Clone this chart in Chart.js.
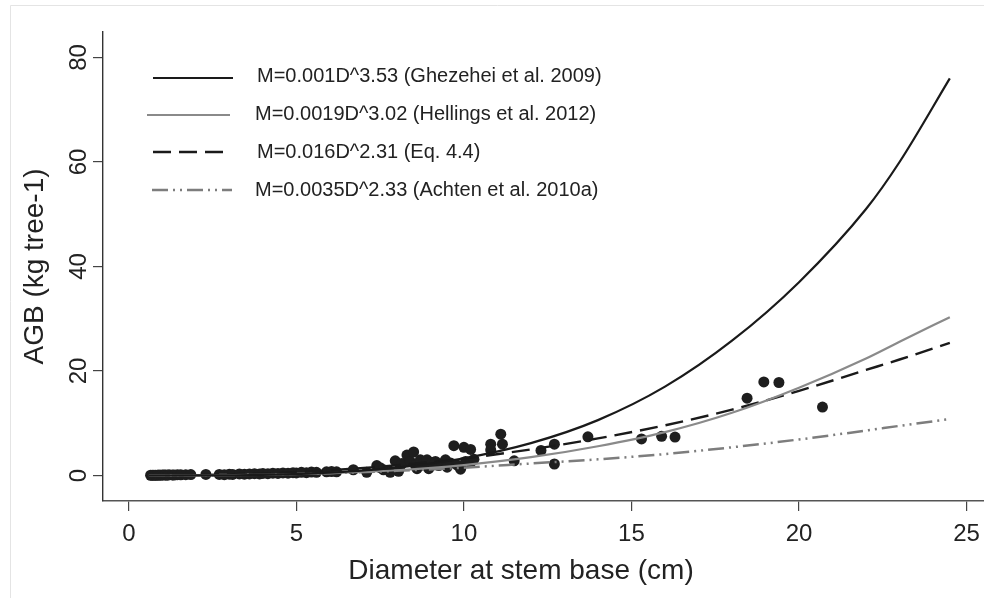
<!DOCTYPE html>
<html>
<head>
<meta charset="utf-8">
<title>AGB vs stem base diameter</title>
<script src="https://cdn.jsdelivr.net/npm/chart.js@4.4.1/dist/chart.umd.min.js"></script>
<style>
  html, body { margin: 0; padding: 0; background: #fff; }
  canvas { display: block; }
</style>
</head>
<body>
<canvas id="agbChart" width="984" height="598"></canvas>
<script>
// axis ticks
const xTicks = [0, 5, 10, 15, 20, 25];
const yTicks = [0, 20, 40, 60, 80];

// measured trees: diameter at stem base (cm) and AGB (kg tree-1)
const diamX = [
  0.65, 0.7, 0.75, 0.8, 0.85, 0.9, 0.95, 1.0, 1.05, 1.1, 1.15, 1.2, 1.3, 1.35, 1.45, 1.55, 1.7, 1.85,
  2.3,
  2.7, 2.85, 3.0, 3.1, 3.3, 3.45, 3.6, 3.75, 3.9, 4.0, 4.15, 4.3, 4.45, 4.6, 4.75, 4.9, 5.0, 5.15,
  5.3, 5.45, 5.6, 5.9, 6.05, 6.2,
  6.7, 7.1, 7.4, 7.5, 7.6, 7.8, 7.95, 8.05, 8.1, 8.15, 8.3, 8.4, 8.5, 8.55, 8.6, 8.7, 8.8, 8.9,
  8.95, 9.05, 9.15, 9.25, 9.35, 9.45, 9.5, 9.6, 9.7, 9.8, 9.9, 10.0, 10.05, 10.2, 10.2, 10.3,
  10.8, 10.8, 11.1, 11.15, 11.5, 12.3, 12.7, 12.7, 13.7, 15.3, 15.9, 16.3,
  18.45, 18.95, 19.4, 20.7
];
const agbY = [
  0.05, 0.05, 0.06, 0.07, 0.05, 0.08, 0.06, 0.1, 0.08, 0.1, 0.07, 0.12, 0.1, 0.08, 0.15, 0.12, 0.15, 0.18,
  0.2,
  0.2, 0.15, 0.25, 0.2, 0.3, 0.25, 0.3, 0.35, 0.3, 0.4, 0.35, 0.45, 0.4, 0.5, 0.45, 0.55, 0.5, 0.6,
  0.55, 0.65, 0.6, 0.7, 0.75, 0.7,
  1.1, 0.6, 1.9, 1.5, 1.1, 0.6, 2.8, 0.8, 1.8, 2.3, 3.9, 2.7, 4.5, 2.0, 1.3, 3.0, 2.3, 3.0,
  1.3, 2.5, 2.7, 1.9, 2.3, 3.0, 1.6, 2.4, 5.7, 2.0, 1.2, 5.4, 2.7, 5.0, 2.5, 3.1,
  6.0, 4.9, 7.9, 6.0, 2.8, 4.8, 6.0, 2.2, 7.4, 7.0, 7.5, 7.35,
  14.8, 17.9, 17.8, 13.1
];

// allometric curves, sampled along the diameter range
const curveD = [0.6, 2, 4, 6, 8, 10, 12, 14, 16, 18, 20, 22, 23, 24.5];
const ghezehei = [0.0, 0.01, 0.13, 0.55, 1.5, 3.3, 6.2, 10.6, 17.0, 25.8, 37.0, 51.0, 60.0, 76.0];
const hellings = [0.0, 0.02, 0.13, 0.43, 1.0, 2.0, 3.5, 5.6, 8.3, 12.0, 16.8, 22.4, 25.6, 30.3];
const eq44 = [0.01, 0.08, 0.39, 1.0, 1.95, 3.25, 5.0, 7.1, 9.6, 12.6, 16.2, 20.2, 22.2, 25.4];
const achten = [0.0, 0.04, 0.18, 0.45, 0.9, 1.5, 2.3, 3.1, 4.1, 5.4, 6.9, 8.6, 9.5, 10.8];

const curveLabels = [
  'M=0.001D^3.53 (Ghezehei et al. 2009)',
  'M=0.0019D^3.02 (Hellings et al. 2012)',
  'M=0.016D^2.31 (Eq. 4.4)',
  'M=0.0035D^2.33 (Achten et al. 2010a)'
];

const FONT = '"Liberation Sans", Arial, Helvetica, sans-serif';
const INK = '#222';

const toPoints = (xs, ys) => xs.map((x, i) => ({x: x, y: ys[i]}));

function curve(label, values, color, width, dash) {
  return {
    type: 'line',
    label: label,
    data: toPoints(curveD, values),
    borderColor: color,
    borderWidth: width,
    borderDash: dash,
    borderCapStyle: 'butt',
    cubicInterpolationMode: 'monotone',
    pointRadius: 0,
    fill: false
  };
}

// legend rows inside the plot: line start/end and text position
const legendRows = [
  {x1: 153, x2: 233, ly: 78, tx: 257, ty: 76},
  {x1: 147, x2: 230, ly: 115, tx: 255, ty: 114},
  {x1: 153, x2: 230, ly: 152, tx: 257, ty: 152},
  {x1: 152, x2: 232, ly: 190, tx: 255, ty: 190}
];

// frame, rotated y labels, axis titles and the legend
const decorations = {
  id: 'decorations',
  beforeDraw(chart) {
    const ctx = chart.ctx;
    ctx.save();
    ctx.fillStyle = '#fff';
    ctx.fillRect(0, 0, chart.width, chart.height);
    ctx.strokeStyle = '#e4e4e4';
    ctx.lineWidth = 1;
    ctx.beginPath();
    ctx.moveTo(10.5, chart.height);
    ctx.lineTo(10.5, 5.5);
    ctx.lineTo(chart.width, 5.5);
    ctx.stroke();
    ctx.restore();
  },
  afterDraw(chart) {
    const ctx = chart.ctx;
    const y = chart.scales.y;
    ctx.save();
    ctx.fillStyle = INK;
    ctx.textAlign = 'center';
    ctx.textBaseline = 'middle';

    ctx.font = '24px ' + FONT;
    yTicks.forEach(v => {
      ctx.save();
      ctx.translate(y.right - 23.5, y.getPixelForValue(v));
      ctx.rotate(-Math.PI / 2);
      ctx.fillText(String(v), 0, 0);
      ctx.restore();
    });

    ctx.font = '28px ' + FONT;
    ctx.save();
    ctx.translate(35, (y.top + y.bottom) / 2);
    ctx.rotate(-Math.PI / 2);
    ctx.fillText('AGB (kg tree-1)', 0, 0);
    ctx.restore();
    ctx.fillText('Diameter at stem base (cm)', 521, 571);

    // legend keys follow the curve datasets' own styles
    ctx.font = '20px ' + FONT;
    ctx.textAlign = 'left';
    legendRows.forEach((row, i) => {
      const ds = chart.data.datasets[i];
      ctx.save();
      ctx.strokeStyle = ds.borderColor;
      ctx.lineWidth = ds.borderWidth;
      ctx.setLineDash(ds.borderDash || []);
      ctx.beginPath();
      ctx.moveTo(row.x1, row.ly);
      ctx.lineTo(row.x2, row.ly);
      ctx.stroke();
      ctx.restore();
      ctx.fillText(ds.label, row.tx, row.ty);
    });
    ctx.restore();
  }
};

const axisGrid = {
  display: true,
  drawOnChartArea: false,
  drawTicks: true,
  tickLength: 10,
  color: '#444',
  lineWidth: 1.2
};

new Chart(document.getElementById('agbChart'), {
  data: {
    datasets: [
      curve(curveLabels[0], ghezehei, '#1a1a1a', 2.2, []),
      curve(curveLabels[1], hellings, '#8a8a8a', 2.2, []),
      curve(curveLabels[2], eq44, '#1a1a1a', 2.4, [18, 8]),
      curve(curveLabels[3], achten, '#7d7d7d', 2.5, [16, 5, 2, 5, 2, 5]),
      {
        type: 'scatter',
        label: 'observed',
        data: toPoints(diamX, agbY),
        backgroundColor: '#1e1e1e',
        borderWidth: 0,
        pointRadius: 5.5,
        pointHoverRadius: 5.5
      }
    ]
  },
  options: {
    responsive: false,
    animation: false,
    devicePixelRatio: 1,
    layout: {autoPadding: false, padding: {top: 32, left: 0, right: 0, bottom: 0}},
    plugins: {
      legend: {display: false},
      tooltip: {enabled: false}
    },
    scales: {
      x: {
        type: 'linear',
        min: -0.77,
        max: 25.52,
        afterBuildTicks: s => { s.ticks = xTicks.map(v => ({value: v})); },
        afterFit: s => {
          s.height = 97;
          s.paddingLeft = 0;
          s.paddingRight = 0;
        },
        grid: axisGrid,
        border: {display: true, color: '#555', width: 1.6},
        ticks: {
          padding: 9,
          maxRotation: 0,
          color: INK,
          font: {family: FONT, size: 24}
        }
      },
      y: {
        type: 'linear',
        min: -4.88,
        max: 84.88,
        afterBuildTicks: s => { s.ticks = yTicks.map(v => ({value: v})); },
        afterFit: s => {
          s.width = 103;
          s.paddingTop = 0;
          s.paddingBottom = 0;
        },
        grid: axisGrid,
        border: {display: true, color: '#333', width: 1.4},
        ticks: {display: false}
      }
    }
  },
  plugins: [decorations]
});
</script>
</body>
</html>
